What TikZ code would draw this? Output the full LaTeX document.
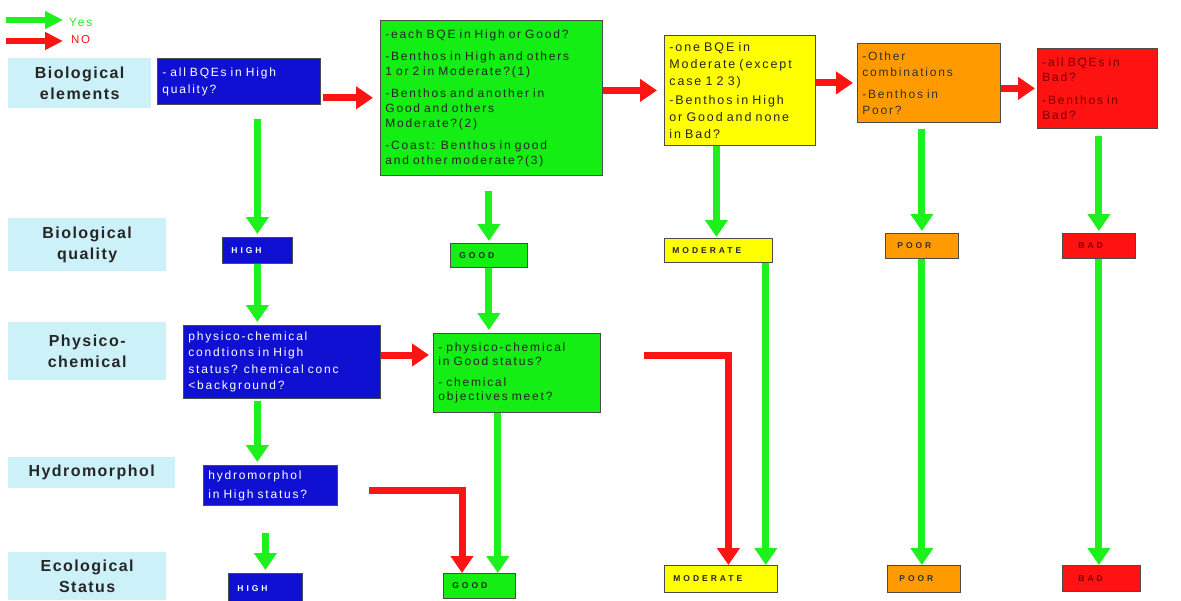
\documentclass[tikz,border=0pt]{standalone}
\usepackage{fontspec}
\setmainfont{Liberation Sans}
\newfontfamily\boxfont[LetterSpace=15,WordSpace=1.5]{Liberation Sans}
\newfontfamily\rowfont[LetterSpace=9]{Liberation Sans}
\newfontfamily\tagfont[LetterSpace=35]{Liberation Sans}
\usetikzlibrary{arrows.meta}

\definecolor{yesgreen}{HTML}{1EF01E}
\definecolor{nored}{HTML}{FF1414}
\definecolor{qblue}{HTML}{1010D2}
\definecolor{qgreen}{HTML}{14EE14}
\definecolor{qyellow}{HTML}{FFFF00}
\definecolor{qorange}{HTML}{FF9A00}
\definecolor{qred}{HTML}{FF1212}
\definecolor{labelcyan}{HTML}{CDF1F8}
\definecolor{darkred}{HTML}{7A0000}

\begin{document}
\begin{tikzpicture}[x=1pt,y=-1pt,
  every node/.style={inner sep=0pt},
  rowlabel/.style={fill=labelcyan, anchor=north west, align=center,
    font=\rowfont\bfseries\fontsize{16}{21}\selectfont, text=black!85},
  qbox/.style={draw=black!70, line width=0.8pt, anchor=north west,
    inner xsep=5pt, inner ysep=2pt, align=left},
  tag/.style={draw=black!70, line width=0.8pt, anchor=north west,
    inner xsep=9pt, align=left, font=\tagfont\bfseries\fontsize{8.5}{10}\selectfont},
  yes/.style={draw=yesgreen, line width=7pt, -{Triangle[width=22pt,length=17pt]}},
  no/.style={draw=nored, line width=7pt, -{Triangle[width=22pt,length=17pt]}},
  legyes/.style={draw=yesgreen, line width=6pt, -{Triangle[width=17pt,length=18pt]}},
  legno/.style={draw=nored, line width=6pt, -{Triangle[width=17pt,length=18pt]}},
]
\useasboundingbox (0,0) rectangle (1181,600);
\clip (0,0) rectangle (1181,600);
\fill[white] (0,0) rectangle (1181,600);

% legend
\node[anchor=west, text=yesgreen, font=\boxfont\fontsize{12}{13}\selectfont] (yeslbl) at (69,22) {Yes};
\node[anchor=west, text=nored, font=\boxfont\fontsize{11.5}{13}\selectfont] (nolbl) at (71,40) {NO};
\coordinate (yesfrom) at (6,20);
\coordinate (nofrom) at (6,41);
\draw[legyes, shorten >=6pt] (yesfrom) -- (yesfrom -| yeslbl.west);
\draw[legno, shorten >=8pt] (nofrom) -- (nofrom -| nolbl.west);

% row labels
\node[rowlabel, minimum width=143pt, minimum height=50pt] (lbio) at (8,58) {Biological\\elements};
\node[rowlabel, minimum width=158pt, minimum height=53pt] (lqual) at (8,218) {Biological\\quality};
\node[rowlabel, minimum width=158pt, minimum height=58pt] (lphys) at (8,322) {Physico-\\chemical};
\node[rowlabel, minimum width=167pt, minimum height=31pt] (lhyd) at (8,457) {Hydromorphol};
\node[rowlabel, minimum width=158pt, minimum height=48pt] (leco) at (8,552) {Ecological\\Status};

% question boxes
\node[qbox, fill=qblue, text=white, text width=153pt, minimum height=46pt,
  font=\boxfont\fontsize{12}{17}\selectfont] (b1) at (157,58)
  {- all BQEs in High\\quality?};
\node[qbox, fill=qgreen, text=black!85, text width=212pt, minimum height=155pt,
  font=\boxfont\fontsize{12}{15}\selectfont] (b2) at (380,20)
  {-each BQE in High or Good?\\[7pt]-Benthos in High and others\\1 or 2 in Moderate?(1)\\[7pt]-Benthos and another in\\Good and others\\Moderate?(2)\\[7pt]-Coast: Benthos in good\\and other moderate?(3)};
\node[qbox, fill=qyellow, text=black!85, text width=141pt, minimum height=110pt,
  font=\boxfont\fontsize{12.5}{17}\selectfont] (yl) at (664,35)
  {-one BQE in\\Moderate (except\\case 1 2 3)\\[2pt]-Benthos in High\\or Good and none\\in Bad?};
\node[qbox, fill=qorange, text=black!80, text width=133pt, minimum height=79pt,
  font=\boxfont\fontsize{12}{16}\selectfont] (or) at (857,43)
  {-Other\\combinations\\[6pt]-Benthos in\\Poor?};
\node[qbox, fill=qred, text=darkred, text width=110pt, minimum height=80pt,
  font=\boxfont\fontsize{12}{15}\selectfont] (rd) at (1037,48)
  {-all BQEs in\\Bad?\\[8pt]-Benthos in\\Bad?};
\node[qbox, fill=qblue, text=white, text width=187pt, minimum height=73pt,
  font=\boxfont\fontsize{12}{16.5}\selectfont] (b3) at (183,325)
  {physico-chemical\\condtions in High\\status? chemical conc\\<background?};
\node[qbox, fill=qgreen, text=black!85, text width=157pt, minimum height=79pt,
  font=\boxfont\fontsize{12}{14.5}\selectfont] (b4) at (433,333)
  {- physico-chemical\\in Good status?\\[6pt]- chemical\\objectives meet?};
\node[qbox, fill=qblue, text=white, text width=124pt, minimum height=40pt,
  font=\boxfont\fontsize{12}{19}\selectfont] (b5) at (203,465)
  {hydromorphol\\in High status?};

% biological quality
\node[tag, fill=qblue, text=white, text width=52pt, minimum height=26pt] (high1) at (222,237) {HIGH};
\node[tag, fill=qgreen, text=black!85, text width=59pt, minimum height=24pt] (good1) at (450,243) {GOOD};
\node[tag, fill=qyellow, text=black!85, inner xsep=8pt, text width=92pt, minimum height=24pt] (mod1) at (664,238) {MODERATE};
\node[tag, fill=qorange, text=black!80, inner xsep=12pt, text width=49pt, minimum height=25pt] (poor1) at (885,233) {POOR};
\node[tag, fill=qred, text=darkred, inner xsep=16pt, text width=41pt, minimum height=25pt] (bad1) at (1062,233) {BAD};

% ecological status
\node[tag, fill=qblue, text=white, text width=56pt, minimum height=30pt] (high2) at (228,573) {HIGH};
\node[tag, fill=qgreen, text=black!85, text width=54pt, minimum height=25pt] (good2) at (443,573) {GOOD};
\node[tag, fill=qyellow, text=black!85, text width=95pt, minimum height=27pt] (mod2) at (664,565) {MODERATE};
\node[tag, fill=qorange, text=black!80, inner xsep=12pt, text width=49pt, minimum height=27pt] (poor2) at (887,565) {POOR};
\node[tag, fill=qred, text=darkred, inner xsep=16pt, text width=46pt, minimum height=26pt] (bad2) at (1062,565) {BAD};

% "no" connectors along the top row
\coordinate (r1) at ([yshift=7pt]b1.south east);
\draw[no, shorten <=2pt, shorten >=7pt] (r1) -- (r1 -| b2.west);
\draw[no, shorten >=7pt] (b2.east |- yl.west) -- (yl.west);
\draw[no, shorten >=4pt] (yl.east |- or.west) -- (or.west);
\draw[no, shorten >=2pt] (or.east |- rd.west) -- (rd.west);

% "yes" connectors to the biological quality classes
\draw[yes, shorten <=14pt, shorten >=3pt] (high1.north |- b1.south) -- (high1.north);
\draw[yes, shorten <=15pt, shorten >=2pt] (good1.north |- b2.south) -- (good1.north);
\draw[yes, shorten >=1pt] ([xshift=-2pt]mod1.north |- yl.south) -- ([xshift=-2pt]mod1.north);
\draw[yes, shorten <=6pt, shorten >=2pt] (poor1.north |- or.south) -- (poor1.north);
\draw[yes, shorten <=7pt, shorten >=2pt] (bad1.north |- rd.south) -- (bad1.north);

% physico-chemical step
\draw[yes, shorten >=3pt] (high1.south) -- (high1.south |- b3.north);
\draw[yes, shorten >=3pt] (good1.south) -- (good1.south |- b4.north);
\coordinate (r5) at ([yshift=-30pt]b3.north east);
\draw[no, shorten >=4pt] (r5) -- (r5 -| b4.west);
\coordinate (r6) at ([yshift=17.5pt]b4.east);
\coordinate (r6e) at ([xshift=7.5pt]mod2.north);
\draw[no, shorten <=43pt] (r6) -| (r6e);

% straight paths down to the ecological status
\coordinate (g7) at ([xshift=-7pt]mod1.south east);
\draw[yes] (g7) -- (g7 |- mod2.north);
\draw[yes] (poor1.south) -- (poor1.south |- poor2.north);
\draw[yes] (bad1.south) -- (bad1.south |- bad2.north);

% hydromorphology step
\draw[yes, shorten <=2pt, shorten >=3pt] (high1.south |- b3.south) -- (high1.south |- b5.north);
\coordinate (r8) at ([yshift=-5pt]b5.east);
\coordinate (r8e) at ([xshift=19pt]good2.north west);
\draw[no, shorten <=31pt] (r8) -| (r8e);
\coordinate (g9) at ([xshift=-18pt]good2.north east);
\draw[yes] (g9 |- b4.south) -- (g9);
\draw[yes, shorten <=27pt, shorten >=3pt] (high2.north |- b5.south) -- (high2.north);
\end{tikzpicture}
\end{document}
